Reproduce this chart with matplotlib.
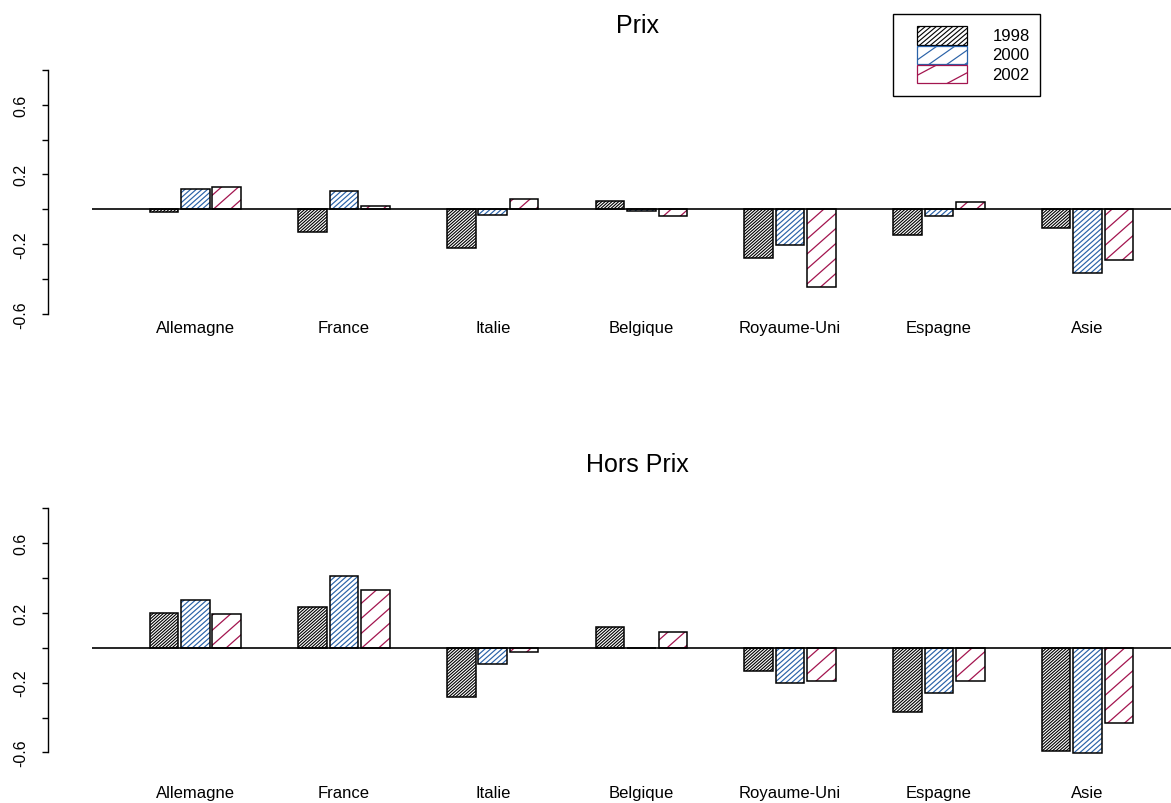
import numpy as np
import matplotlib
matplotlib.use('Agg')
import matplotlib.pyplot as plt
from matplotlib.collections import LineCollection
from matplotlib.patches import Rectangle
from matplotlib.transforms import IdentityTransform, blended_transform_factory

plt.rcParams['font.family'] = ['Liberation Sans', 'DejaVu Sans']

# data
categories = ['Allemagne', 'France', 'Italie', 'Belgique', 'Royaume-Uni', 'Espagne', 'Asie']
years = ['1998', '2000', '2002']
prix_1998 = [-0.015, -0.13, -0.22, 0.05, -0.28, -0.147, -0.11]
prix_2000 = [0.116, 0.107, -0.034, -0.011, -0.206, -0.038, -0.363]
prix_2002 = [0.13, 0.02, 0.061, -0.04, -0.445, 0.04, -0.292]
hors_1998 = [0.197, 0.233, -0.283, 0.12, -0.135, -0.368, -0.59]
hors_2000 = [0.272, 0.411, -0.092, -0.003, -0.2, -0.258, -0.603]
hors_2002 = [0.191, 0.331, -0.025, 0.092, -0.193, -0.193, -0.43]
yticks = [-0.6, -0.4, -0.2, 0.0, 0.2, 0.4, 0.6, 0.8]
ylabels = ['-0.6', '', '-0.2', '', '0.2', '', '0.6', '']

colors = ['black', '#2a62a8', '#a3154f']
steps = [3.0, 5.0, 15.0]   # hatch spacing (px, vertical)
hatch_lw = [0.8, 0.85, 0.9]

W, H = 1171, 804
fig = plt.figure(figsize=(W / 100, H / 100), dpi=100)


def fx(px):
    return px / W


def fy(py):
    return 1 - py / H


def hatch(patch, color, step, angle=41.5, lw=0.8, z=3):
    bb = patch.get_window_extent()
    x0, y0, x1, y1 = bb.x0 - 2, bb.y0, bb.x1 + 2, bb.y1
    t = np.tan(np.radians(angle))
    ks = np.arange(np.floor((y0 - t * x1) / step) - 1, np.ceil((y1 - t * x0) / step) + 2)
    segs = [[(x0, t * x0 + k * step), (x1, t * x1 + k * step)] for k in ks]
    return LineCollection(segs, colors=color, linewidths=lw, transform=IdentityTransform(),
                          zorder=z)


def panel(top_px, zero_px, title, title_base, label_base, series):
    scale = 174.5
    bottom_px = top_px + 260
    ax = fig.add_axes([fx(48), fy(bottom_px), fx(1171 - 48), 260 / H])
    ax.set_xlim(-44.3 / 28.6, (1171 - 92.3) / 28.6)
    ax.set_ylim((zero_px - bottom_px) / scale, (zero_px - top_px) / scale)

    n = len(categories)
    for j, vals in enumerate(series):
        lefts = np.arange(n) * 5.2 + 2 + j * 1.1
        bars = ax.bar(lefts, vals, width=1, align='edge', color='white',
                      edgecolor='none', zorder=2)
        for b in bars:
            lc = hatch(b, colors[j], steps[j], lw=hatch_lw[j])
            ax.add_collection(lc, autolim=False)
            lc.set_clip_path(b)
        ax.bar(lefts, vals, width=1, align='edge', fill=False,
               edgecolor='black', linewidth=1.1, zorder=4)

    ax.hlines(0, 0, 40, color='black', linewidth=1.2, zorder=5)

    for s in ['top', 'right', 'bottom']:
        ax.spines[s].set_visible(False)
    ax.spines['left'].set_bounds(-0.6, 0.8)
    ax.spines['left'].set_linewidth(1.0)
    ax.set_xticks([])
    ax.set_yticks(yticks)
    ax.set_yticklabels(ylabels, rotation=90, ha='center', va='center')
    ax.tick_params(axis='y', length=4.5, width=1.0, pad=15, labelsize=11.5)

    tr = blended_transform_factory(ax.transData, fig.transFigure)
    centers = np.arange(n) * 5.2 + 2 + 1.6
    for c, name in zip(centers, categories):
        ax.text(c, fy(label_base), name, transform=tr, ha='center', va='baseline',
                fontsize=12, clip_on=False)

    fig.text(fx(637), fy(title_base), title, ha='center', va='baseline', fontsize=18)
    return ax


panel(60, 210.3, 'Prix', 33, 332.7, [prix_1998, prix_2000, prix_2002])
panel(498, 648.7, 'Hors Prix', 471.7, 797.7, [hors_1998, hors_2000, hors_2002])

# legend box
box = Rectangle((fx(893), fy(97)), fx(1040 - 893), (97 - 15) / H, transform=fig.transFigure,
                fill=False, edgecolor='black', linewidth=1.0)
fig.add_artist(box)
leg_rows = [(27, 45.5), (46.5, 64.5), (66, 84)]
leg_angles = [40, 35, 28]
leg_steps = [4.6, 12.6, 24]
for j, (ya, yb) in enumerate(leg_rows):
    p = Rectangle((fx(917), fy(yb)), fx(967 - 917), (yb - ya) / H, transform=fig.transFigure,
                  facecolor='white', edgecolor=colors[j], linewidth=0.9, zorder=4)
    fig.add_artist(p)
    lc = hatch(p, colors[j], leg_steps[j], angle=leg_angles[j], lw=hatch_lw[j], z=5)
    fig.add_artist(lc)
    lc.set_clip_path(p)
    fig.text(fx(992.5), fy((ya + yb) / 2), years[j], ha='left', va='center', fontsize=12)

fig.savefig('out.png', dpi=100)
